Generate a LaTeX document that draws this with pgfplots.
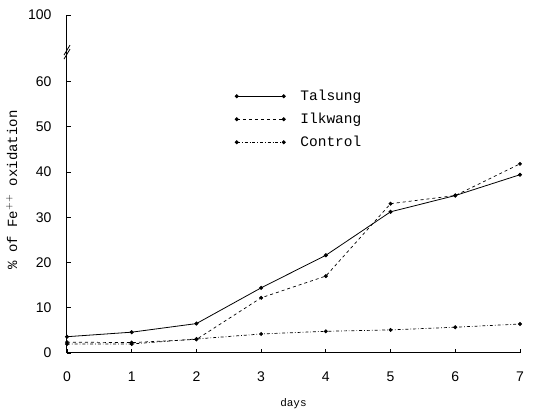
\documentclass[border=0pt]{standalone}
\usepackage{pgfplots}
\pgfplotsset{compat=1.18}
\usepackage{fontspec}
\setmainfont{Liberation Mono}
\setsansfont{Liberation Sans}
\begin{document}
\begin{tikzpicture}
\begin{axis}[
  scale only axis,
  width=453pt, height=338pt,
  xmin=0, xmax=7, ymin=0, ymax=74.7,
  axis x line=bottom, axis y line=left,
  axis line style={-, line width=1pt},
  xtick={0,...,7},
  ytick={0,10,20,30,40,50,60,74.7},
  yticklabels={0,10,20,30,40,50,60,100},
  tick style={black, line width=0.8pt},
  major tick length=4pt,
  tick align=inside,
  /pgf/number format/assume math mode=true,
  ticklabel style={font=\sffamily\fontsize{14}{16}\selectfont},
  xticklabel style={yshift=-15pt},
  yticklabel style={xshift=-12pt},
  xlabel={\fontsize{11}{13}\selectfont days},
  xlabel style={yshift=-10pt},
  ylabel={\fontsize{14}{16}\selectfont \% of Fe$^{++}$ oxidation},
  ylabel style={yshift=4pt, xshift=-6pt},
  legend style={draw=none, fill=none, at={(axis cs:2.55,59.0)}, anchor=north west,
    font=\fontsize{14.5}{16}\selectfont, row sep=7pt, column sep=13pt},
  legend cell align=left,
  legend image code/.code={\draw[#1] plot coordinates {(0pt,0pt) (47pt,0pt)};},
  clip=false,
]
\addplot[black, line width=0.8pt, mark=*, mark size=1.6pt] coordinates {
 (0,3.6) (1,4.6) (2,6.5) (3,14.4) (4,21.6) (5,31.2) (6,34.8) (7,39.4)};
\addlegendentry{Talsung}
\addplot[black, line width=0.7pt, dashed, mark=*, mark size=1.6pt, mark options={solid}] coordinates {
 (0,2.4) (1,2.3) (2,3.0) (3,12.2) (4,17.0) (5,33.0) (6,34.8) (7,41.8)};
\addlegendentry{Ilkwang}
\addplot[black, line width=0.7pt, dash dot, mark=*, mark size=1.6pt, mark options={solid}] coordinates {
 (0,2.0) (1,2.0) (2,3.1) (3,4.2) (4,4.8) (5,5.1) (6,5.7) (7,6.4)};
\addlegendentry{Control}
\draw[line width=0.8pt] ([shift={(-3pt,-7pt)}]axis cs:0,66.5) -- ([shift={(3pt,3pt)}]axis cs:0,66.5);
\draw[line width=0.8pt] ([shift={(-3pt,-3pt)}]axis cs:0,66.5) -- ([shift={(3pt,7pt)}]axis cs:0,66.5);
\coordinate (bl) at (rel axis cs:0,0);
\coordinate (tr) at (rel axis cs:1,1);
\end{axis}
\pgfresetboundingbox
\path (bl) ++(-67pt,-63pt) coordinate (a);
\path (tr) ++(16pt,15pt) coordinate (b);
\useasboundingbox (a) rectangle (b);
\end{tikzpicture}
\end{document}
